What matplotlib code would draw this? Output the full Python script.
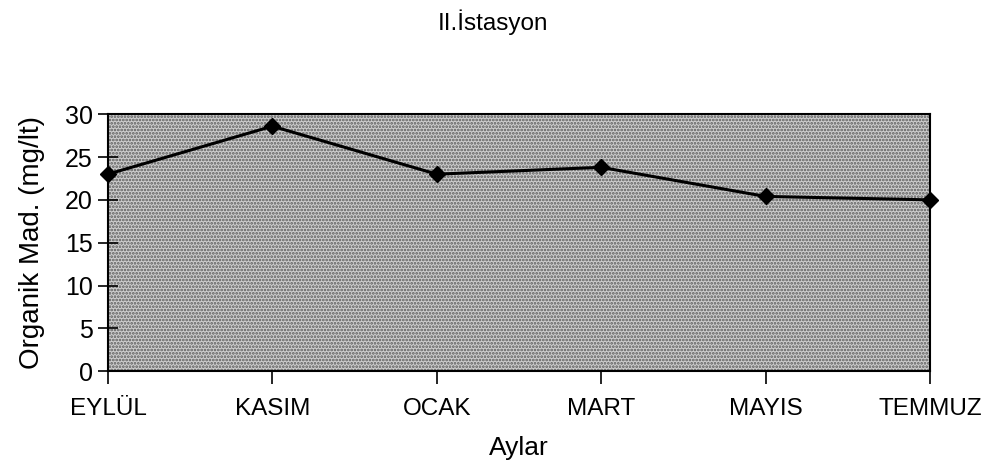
import matplotlib
matplotlib.use("Agg")
import matplotlib.pyplot as plt
from matplotlib.patches import Rectangle

# Organik madde, II. istasyon
aylar = ["EYLÜL", "KASIM", "OCAK", "MART", "MAYIS", "TEMMUZ"]
organik = [23.0, 28.6, 23.0, 23.8, 20.4, 20.0]
yticks = [0, 5, 10, 15, 20, 25, 30]

plt.rcParams['font.family'] = ['Liberation Sans', 'DejaVu Sans']
plt.rcParams['hatch.linewidth'] = 1.3

fig = plt.figure(figsize=(9.85, 4.74), dpi=100)
ax = fig.add_axes([0.1096, 0.217, 0.8345, 0.542])

x = list(range(len(aylar)))
ax.set_xlim(0, len(aylar) - 1)
ax.set_ylim(0, 30)

# stippled plot background
ax.set_facecolor('#cdcdcd')
ax.add_patch(Rectangle((0, 0), 1, 1, transform=ax.transAxes, facecolor='none',
                       edgecolor='#5a5a5a', hatch='.....', linewidth=0, zorder=0))

ax.plot(x, organik, color='black', linewidth=2.2, marker='D', markersize=8.5,
        markerfacecolor='black', markeredgecolor='black', zorder=3, clip_on=False)

ax.set_xticks(x)
ax.set_xticklabels(aylar, fontsize=17.5)
ax.set_yticks(yticks)
ax.set_yticklabels([str(v) for v in yticks], fontsize=18)
ax.tick_params(axis='x', direction='out', length=9, width=1.2, pad=10)
ax.tick_params(axis='y', direction='inout', length=14, width=1.2, pad=4)
for s in ax.spines.values():
    s.set_linewidth(1.5)

ax.set_ylabel("Organik Mad. (mg/lt)", fontsize=20, labelpad=14)
ax.set_xlabel("Aylar", fontsize=19, labelpad=12)
fig.text(0.5, 0.953, "II.İstasyon", fontsize=17.5, ha='center', va='center')

fig.savefig("out.png", dpi=100)
